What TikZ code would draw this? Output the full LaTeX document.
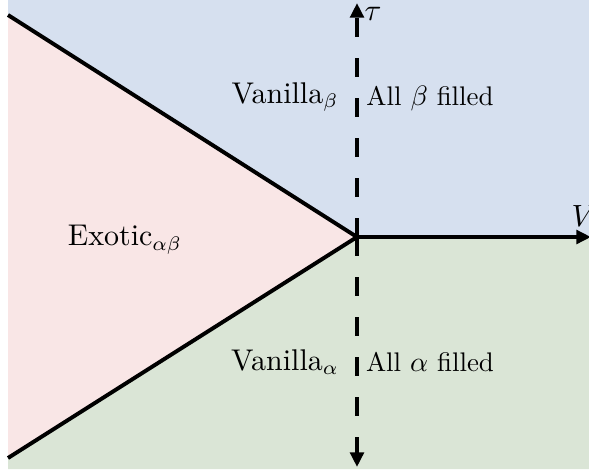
\documentclass[tikz,border=0pt]{standalone}
\usepackage{amsmath}
\usetikzlibrary{arrows.meta,positioning}
\definecolor{vanbeta}{HTML}{D6E0EF}
\definecolor{vanalpha}{HTML}{DAE5D6}
\definecolor{exotic}{HTML}{F9E6E6}
\tikzset{
  phaseline/.style={line width=1.4pt, draw=black},
  axisarrow/.style={-{Triangle[length=5.2pt,width=4.8pt]}, line width=1.4pt},
  dashaxis/.style={axisarrow, dash pattern=on 6.8pt off 7.5pt},
  phaselabel/.style={font=\fontsize{10.7}{13}\selectfont, inner sep=1pt},
  filllabel/.style={font=\fontsize{9.6}{11.5}\selectfont, inner sep=1pt}
}

\begin{document}
\begin{tikzpicture}[x=0.01255cm, y=-0.01255cm]
  \useasboundingbox (0,0) rectangle (589,469);
  % key points
  \coordinate (o) at (357,237);
  \coordinate (upl) at (8,15);
  \coordinate (lowl) at (8,458);
  \coordinate (tautip) at (357,3);
  \coordinate (bottip) at (357,467);
  \coordinate (vtip) at (591,237);
  % regions
  \fill[vanbeta] (8,0) -- (589,0) -- (589,237) -- (o) -- (upl) -- cycle;
  \fill[vanalpha] (8,469) -- (589,469) -- (589,237) -- (o) -- (lowl) -- cycle;
  \fill[exotic] (upl) -- (o) -- (lowl) -- cycle;
  % boundaries
  \draw[phaseline] (upl) -- (o) -- (lowl);
  \draw[axisarrow] (o) -- (vtip);
  \draw[dashaxis] (o) -- (tautip);
  \draw[dashaxis] (o) -- (bottip);
  % labels
  \node[phaselabel] (tau) at (373,14) {$\tau$};
  \node[phaselabel] (vlab) at (584,216) {$V$};
  \node[phaselabel] (vb) at (285,97) {Vanilla$_\beta$};
  \node[filllabel] (fb) at (430,98) {All $\beta$ filled};
  \node[phaselabel] (va) at (285,362) {Vanilla$_\alpha$};
  \node[filllabel] (fa) at (430,362) {All $\alpha$ filled};
  \node[phaselabel] (ex) at (125,240) {Exotic$_{\alpha\beta}$};
\end{tikzpicture}
\end{document}
